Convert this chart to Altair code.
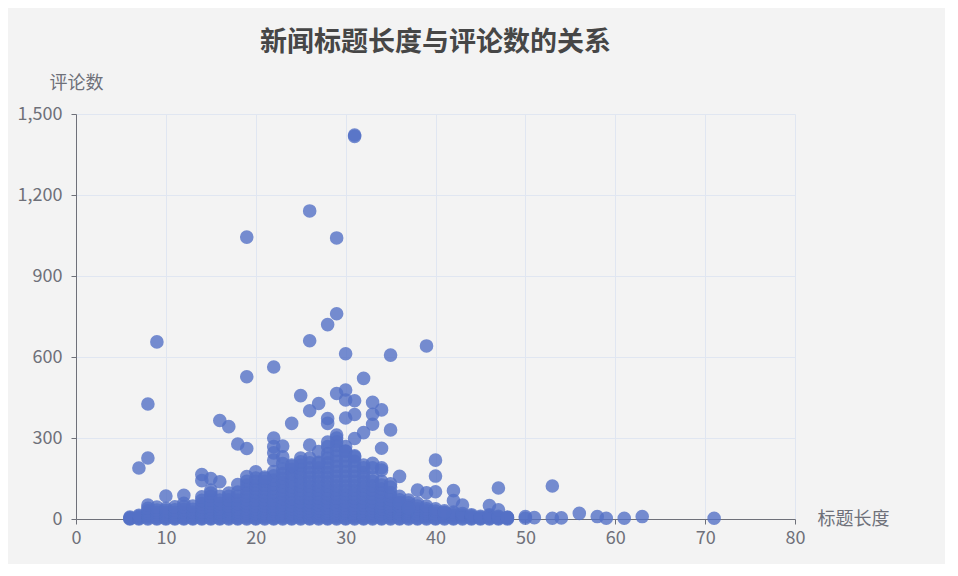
import altair as alt
import pandas as pd

title_text = "新闻标题长度与评论数的关系"
x_name = "标题长度"
y_name = "评论数"

# scattered points above the dense band (title length, comment count)
outlier_len = [31, 31, 26, 19, 29, 29, 28, 9, 26, 30, 35, 39, 22, 19, 32, 8, 25, 29, 30, 27,
               26, 30, 31, 33, 34, 33, 31, 30, 28, 16, 17, 24, 28, 33, 35, 32, 31, 29, 29, 29,
               18, 19, 22, 22, 22, 22, 23, 23, 23, 26, 27, 28, 28, 34, 34, 34, 33, 25, 25, 36,
               7, 8, 40, 40, 40, 53, 47, 10, 12, 14, 14, 15, 15, 16, 18, 19, 20, 38, 39, 42,
               42, 43, 46, 47, 35, 35, 21, 24, 27, 30, 31, 32, 33, 50, 50, 51, 53, 54, 56, 58,
               59, 61, 63, 71, 48, 36, 37, 41]
outlier_cnt = [1422, 1417, 1141, 1044, 1041, 760, 720, 656, 660, 612, 607, 641, 563, 527, 521, 426, 457, 465, 478, 428,
               401, 441, 438, 432, 404, 388, 387, 374, 372, 365, 342, 354, 354, 351, 330, 320, 298, 311, 300, 286,
               278, 261, 300, 268, 245, 218, 270, 230, 205, 274, 250, 268, 285, 262, 190, 181, 206, 226, 212, 158,
               189, 226, 218, 159, 101, 122, 115, 85, 88, 165, 142, 150, 107, 138, 128, 157, 175, 107, 97, 105,
               68, 52, 50, 34, 130, 118, 150, 200, 210, 250, 230, 200, 190, 9, 3, 5, 3, 4, 21, 9,
               3, 3, 9, 3, 6, 60, 40, 25]

# dense band near zero: comment counts per title length
band = {
    6: [0, 2, 4, 7],
    7: [0, 3, 6, 10, 14],
    8: [0, 4, 9, 15, 22, 30, 40, 52],
    9: [0, 3, 7, 12, 18, 25, 33, 44],
    10: [0, 3, 7, 12, 18, 25, 32, 40],
    11: [0, 3, 7, 12, 18, 25, 34, 45],
    12: [0, 3, 7, 12, 18, 26, 35, 46, 58],
    13: [0, 3, 7, 12, 18, 26, 36, 48],
    14: [0, 3, 7, 12, 19, 27, 36, 46, 57, 69, 82],
    15: [0, 3, 7, 13, 20, 28, 38, 48, 59, 71, 84, 96],
    16: [0, 3, 7, 13, 20, 28, 37, 47, 58, 70, 84],
    17: [0, 4, 8, 14, 21, 29, 38, 48, 59, 71, 84, 96],
    18: [0, 3, 7, 13, 20, 28, 37, 47, 58, 70, 84, 100],
    19: [0, 4, 9, 15, 22, 30, 39, 49, 60, 72, 85, 98, 112, 126, 140],
    20: [0, 3, 8, 14, 21, 29, 38, 48, 59, 71, 84, 98, 112, 126, 140, 152],
    21: [0, 4, 9, 15, 22, 30, 39, 49, 60, 72, 85, 98, 112, 126, 140, 155],
    22: [0, 3, 8, 14, 21, 29, 38, 48, 59, 71, 84, 98, 113, 128, 144, 160, 176],
    23: [0, 4, 9, 15, 22, 30, 40, 51, 63, 76, 90, 105, 120, 136, 152, 168, 185],
    24: [0, 3, 8, 14, 21, 29, 39, 50, 62, 75, 89, 104, 120, 136, 152, 168, 184, 195],
    25: [0, 4, 9, 15, 22, 31, 41, 52, 64, 77, 91, 106, 122, 138, 154, 170, 186, 200],
    26: [0, 3, 8, 14, 22, 31, 41, 52, 64, 77, 91, 106, 122, 138, 155, 172, 190, 208, 226],
    27: [0, 4, 9, 15, 23, 32, 42, 53, 65, 78, 92, 107, 123, 139, 156, 173, 190, 206],
    28: [0, 3, 8, 14, 22, 31, 41, 52, 64, 77, 91, 106, 122, 138, 155, 172, 190, 208, 226, 242],
    29: [0, 4, 9, 15, 23, 32, 42, 53, 65, 78, 92, 107, 123, 140, 158, 176, 195, 214, 234, 254, 272],
    30: [0, 3, 8, 14, 22, 31, 41, 52, 64, 77, 91, 106, 122, 140, 158, 176, 195, 214, 234, 252, 268],
    31: [0, 4, 9, 15, 23, 32, 42, 53, 65, 78, 92, 107, 123, 140, 158, 176, 195, 214, 234],
    32: [0, 3, 8, 14, 22, 31, 41, 52, 64, 77, 91, 106, 122, 138, 155, 172, 190],
    33: [0, 4, 9, 15, 23, 32, 42, 53, 65, 78, 92, 107, 123, 140, 156],
    34: [0, 3, 8, 14, 21, 29, 38, 48, 59, 71, 84, 98, 112, 126, 140],
    35: [0, 4, 9, 15, 22, 30, 39, 49, 60, 72, 85, 98],
    36: [0, 3, 8, 14, 21, 29, 38, 48, 59, 71, 84],
    37: [0, 4, 9, 15, 22, 30, 39, 49, 60, 70],
    38: [0, 3, 8, 14, 21, 29, 38, 48, 58],
    39: [0, 4, 9, 15, 22, 30, 38, 48],
    40: [0, 3, 8, 14, 21, 29, 38],
    41: [0, 4, 9, 15, 22, 30],
    42: [0, 3, 8, 14, 20, 26],
    43: [0, 4, 9, 14, 20],
    44: [0, 3, 7, 12, 16],
    45: [0, 3, 6, 10],
    46: [0, 3, 7, 12, 16],
    47: [0, 3, 6, 10],
    48: [0, 3, 6],
}

x_ticks = [0, 10, 20, 30, 40, 50, 60, 70, 80]
y_ticks = [0, 300, 600, 900, 1200, 1500]

lens, cnts = [], []
for k, vals in band.items():
    for v in vals:
        lens.append(k)
        cnts.append(v)
lens += outlier_len
cnts += outlier_cnt
df = pd.DataFrame({"len": lens, "cnt": cnts})

FONT = "Noto Sans CJK SC"
AXIS_COLOR = "#6e7079"

chart = alt.Chart(df).mark_circle(size=185, color="#5470c6", opacity=0.8).encode(
    x=alt.X("len:Q", scale=alt.Scale(domain=[0, 80], nice=False),
            axis=alt.Axis(values=x_ticks, title=x_name, titleAngle=0, titleX=741, titleY=0,
                          titleAlign="left", titleBaseline="middle", labelFlush=False)),
    y=alt.Y("cnt:Q", scale=alt.Scale(domain=[0, 1500], nice=False),
            axis=alt.Axis(values=y_ticks, format=",.0f", title=y_name, titleAngle=0, titleX=0, titleY=-22,
                          titleAlign="center", titleBaseline="bottom", labelFlush=False,
                          labelPadding=9)),
).properties(
    width=719, height=405,
    autosize="none",
    padding={"left": 68, "top": 106, "right": 150, "bottom": 45},
    title=alt.TitleParams(title_text, fontSize=27, fontWeight="bold", color="#464646",
                          font=FONT, anchor="middle", offset=17),
).configure(
    background="#f3f3f3",
).configure_view(
    stroke=None,
).configure_axis(
    labelFont=FONT, titleFont=FONT, labelFontSize=18, titleFontSize=18,
    labelColor=AXIS_COLOR, titleColor=AXIS_COLOR, titleFontWeight="normal",
    domainColor=AXIS_COLOR, tickColor=AXIS_COLOR, tickSize=5, labelPadding=5,
    gridColor="#e0e6f1", gridWidth=1,
)

chart.save("out.html", embed_options={"renderer": "svg", "actions": False})
